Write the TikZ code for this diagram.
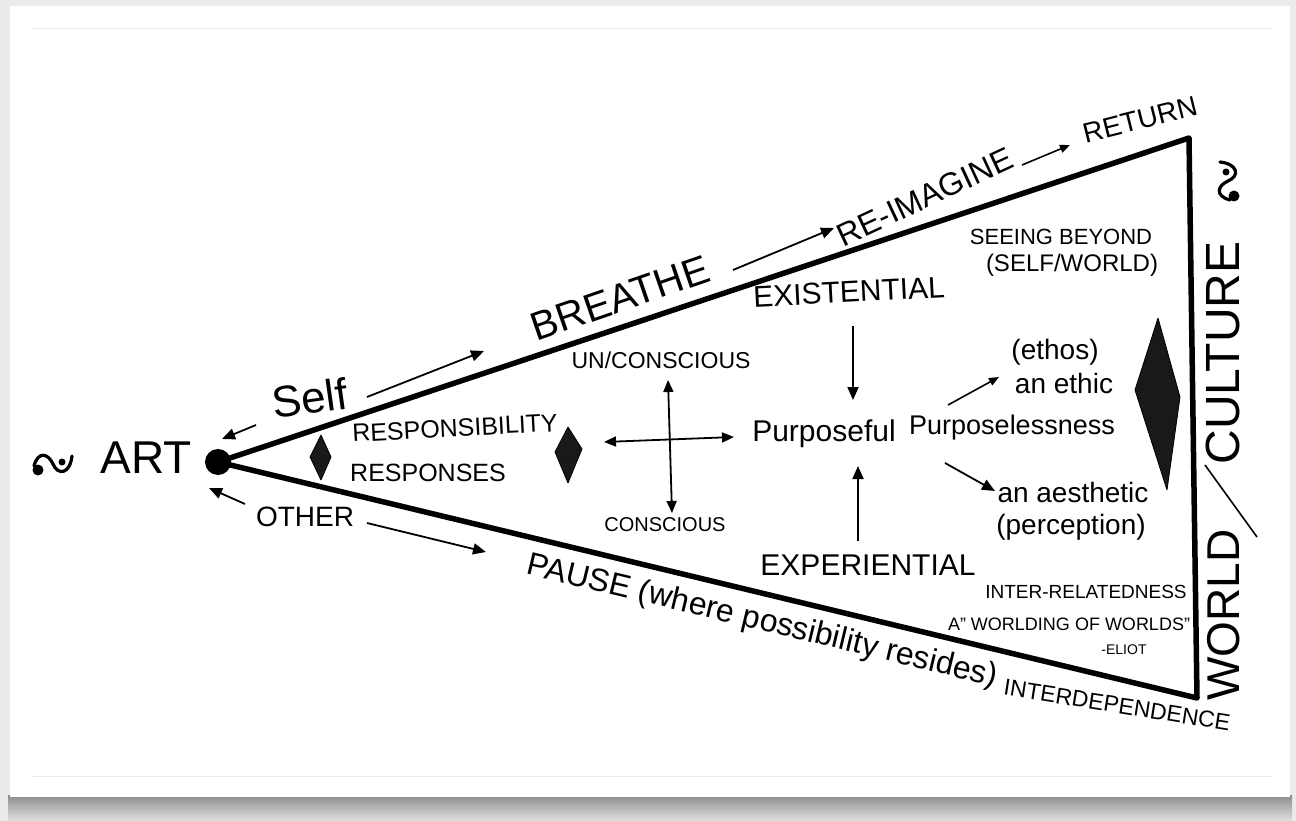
\documentclass[tikz,border=0pt]{standalone}
\usepackage{fontspec}
\setmainfont{Liberation Sans}
\usetikzlibrary{arrows.meta}
\newcommand\fsz[1]{\fontsize{#1}{#1}\selectfont}
\begin{document}
\begin{tikzpicture}[x=1pt,y=-1pt,
  txt/.style={inner sep=0pt, outer sep=0pt, text=black},
  arr/.style={-{Triangle[length=13pt,width=11pt]}, line width=1.8pt},
  arrs/.style={-{Triangle[length=10pt,width=8pt]}, line width=1.6pt},
  arrb/.style={{Triangle[length=12pt,width=10pt]}-{Triangle[length=12pt,width=10pt]}, line width=1.8pt},
  edgeline/.style={line width=5.5pt, line cap=round, line join=round},
  kite/.style={fill=black!90, draw=black, line width=0.8pt, line join=round},
  squig/.style={line width=3.2pt, line cap=round}]
% background card
\useasboundingbox (0,0) rectangle (1296,821);
\fill[black!8] (0,0) rectangle (1296,821);
\shade[top color=black!45, bottom color=black!12] (8,795) rectangle (1292,821);
\fill[white] (10,6) rectangle (1290,797);
\draw[black!8, line width=0.8pt] (32,28) -- (1272,28);
\draw[black!8, line width=0.8pt] (32,776) -- (1272,776);
% main wedge
\coordinate (apex) at (218,462);
\coordinate (tr) at (1189,138);
\coordinate (br) at (1197,698);
\draw[edgeline] (apex) -- (tr) -- (br) -- cycle;
\fill (apex) circle (13);
% squiggle symbol left of ART
\begin{scope}[shift={(52,464)}]
  \fill (-14,6) circle (5.5);
  \draw[squig] (-18,2) .. controls (-14,-13) and (-4,-11) .. (1,0) .. controls (6,12) and (18,10) .. (20,-8);
  \fill (10,-2) circle (3.5);
\end{scope}
\node[txt, font=\fsz{46}] (art) at (146,458) {ART};
% Self / OTHER
\node[txt, font=\fsz{44}, rotate=8] (self) at (310,398) {Self};
\coordinate (s1a) at (256,425); \coordinate (s1b) at (222,439);
\draw[arr] (s1a) -- (s1b);
\coordinate (s2a) at (367,397); \coordinate (s2b) at (484,351);
\draw[arr] (s2a) -- (s2b);
\node[txt, font=\fsz{28}] (other) at (305,517) {OTHER};
\coordinate (o1a) at (245,504); \coordinate (o1b) at (209,488);
\draw[arr] (o1a) -- (o1b);
\coordinate (o2a) at (367,523); \coordinate (o2b) at (486,552);
\draw[arr] (o2a) -- (o2b);
% top edge labels
\node[txt, font=\fsz{40}, rotate=19] (breathe) at (620,298) {BREATHE};
\coordinate (b1a) at (733,270); \coordinate (b1b) at (834,228);
\draw[arr] (b1a) -- (b1b);
\node[txt, font=\fsz{32}, rotate=25] (reimag) at (925,197) {RE-IMAGINE};
\coordinate (r1a) at (1022,165); \coordinate (r1b) at (1070,145);
\draw[arrs] (r1a) -- (r1b);
\node[txt, font=\fsz{28}, rotate=14] (return) at (1140,120) {RETURN};
% left inner
\draw[kite] (321,435) -- (331,457) -- (321,480) -- (310,457) -- cycle;
\node[txt, font=\fsz{25}, rotate=3] (respy) at (455,428) {RESPONSIBILITY};
\node[txt, font=\fsz{25}] (resps) at (428,473) {RESPONSES};
\draw[kite] (568,427) -- (582,449) -- (568,483) -- (555,452) -- cycle;
% cross
\node[txt, font=\fsz{23}] (uncon) at (661,360) {UN/CONSCIOUS};
\node[txt, font=\fsz{20}] (consc) at (665,525) {CONSCIOUS};
\coordinate (cvt) at (668,380); \coordinate (cvb) at (672,513);
\coordinate (chl) at (604,442); \coordinate (chr) at (734,437);
\draw[arrb] (cvt) -- (cvb);
\draw[arrb] (chl) -- (chr);
% purposeful column
\node[txt, font=\fsz{30}, rotate=3] (exist) at (849,292) {EXISTENTIAL};
\node[txt, font=\fsz{30}] (purp) at (824,434) {Purposeful};
\node[txt, font=\fsz{30}] (exper) at (868,565) {EXPERIENTIAL};
\coordinate (e1a) at (853,326); \coordinate (e1b) at (853,400);
\draw[arr] (e1a) -- (e1b);
\coordinate (x1a) at (858,541); \coordinate (x1b) at (858,466);
\draw[arr] (x1a) -- (x1b);
% purposelessness
\node[txt, font=\fsz{27}] (purpl) at (1012,428) {Purposelessness};
\node[txt, font=\fsz{28}] (ethos) at (1055,352) {(ethos)};
\node[txt, font=\fsz{28}] (ethic) at (1064,383) {an ethic};
\coordinate (p1a) at (948,405); \coordinate (p1b) at (999,377);
\draw[arrs] (p1a) -- (p1b);
\coordinate (p2a) at (945,463); \coordinate (p2b) at (995,491);
\draw[arr] (p2a) -- (p2b);
\node[txt, font=\fsz{28}] (aesth) at (1073,492) {an aesthetic};
\node[txt, font=\fsz{28}] (percep) at (1071,527) {(perception)};
\node[txt, font=\fsz{22}] (seeing) at (1061,237) {SEEING BEYOND};
\node[txt, font=\fsz{24}] (selfw) at (1072,265) {(SELF/WORLD)};
\draw[kite] (1158,318) -- (1180,397) -- (1167,490) -- (1135,390) -- cycle;
% lower right
\node[txt, font=\fsz{19}] (interrel) at (1086,592) {INTER-RELATEDNESS};
\node[txt, font=\fsz{18}] (worlding) at (1069,624) {A" WORLDING OF WORLDS”};
\node[txt, font=\fsz{14}] (eliot) at (1124,650) {-ELIOT};
% bottom edge labels
\node[txt, font=\fsz{32}, rotate=-13.5] (pause) at (762,622) {PAUSE (where possibility resides)};
\node[txt, font=\fsz{23}, rotate=-9] (interdep) at (1117,705) {INTERDEPENDENCE};
% right side
\node[txt, font=\fsz{46}, rotate=90] (world) at (1224,615) {WORLD};
\node[txt, font=\fsz{48}, rotate=90] (culture) at (1223,353) {CULTURE};
\coordinate (sla) at (1205,465); \coordinate (slb) at (1257,537);
\draw[line width=1.6pt] (sla) -- (slb);
\begin{scope}[shift={(1228,182)}, rotate=90]
  \fill (-14,6) circle (5.5);
  \draw[squig] (-18,2) .. controls (-14,-13) and (-4,-11) .. (1,0) .. controls (6,12) and (18,10) .. (20,-8);
  \fill (10,-2) circle (3.5);
\end{scope}
\end{tikzpicture}
\end{document}
